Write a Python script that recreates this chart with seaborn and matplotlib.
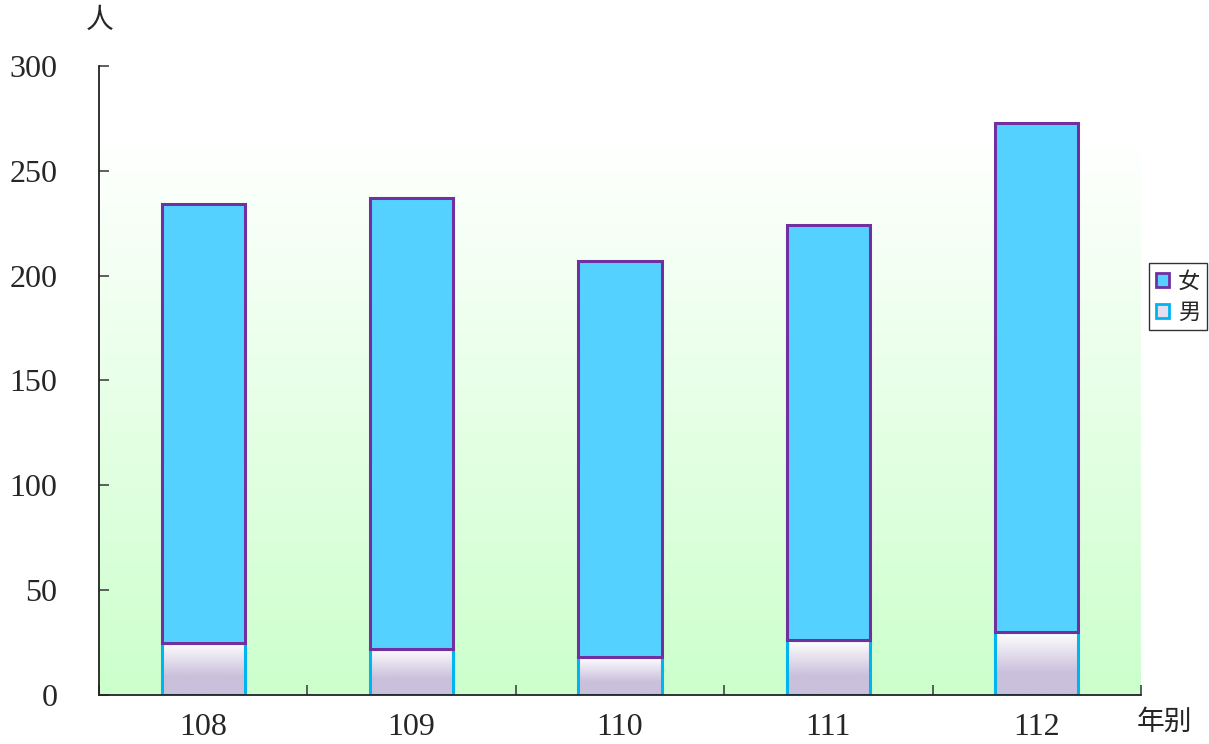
import numpy as np
import pandas as pd
import matplotlib
matplotlib.use("Agg")
import matplotlib.pyplot as plt
import seaborn as sns
from matplotlib.patches import Patch
from matplotlib.colors import LinearSegmentedColormap

years = ["108", "109", "110", "111", "112"]
male = [25, 22, 18, 26, 30]
female = [209, 215, 189, 198, 243]
yticks = [0, 50, 100, 150, 200, 250, 300]

sns.set_theme(style="white")
plt.rcParams['font.family'] = ['Liberation Serif', 'Noto Sans CJK TC', 'DejaVu Sans']

FEMALE_FACE = "#55D1FF"
FEMALE_EDGE = "#7030A0"
MALE_EDGE = "#00B4F0"
CJK = ['Noto Sans CJK TC', 'DejaVu Sans']

fig = plt.figure(figsize=(12.09, 7.44), dpi=100)
ax = fig.add_axes([99/1209, 49/744, (1141-99)/1209, (695-66)/744])

df = pd.DataFrame({"year": years, "male": male, "female": female})

# female bars (stacked on male)
sns.barplot(data=df, x="year", y="female", ax=ax, color=FEMALE_FACE, saturation=1,
            width=0.40, edgecolor=FEMALE_EDGE, linewidth=2.2, zorder=3)
for p, m in zip(ax.patches, male):
    p.set_y(m)
n_f = len(ax.patches)

# male bars
sns.barplot(data=df, x="year", y="male", ax=ax, color="white", saturation=1,
            width=0.40, edgecolor=MALE_EDGE, linewidth=2.2, zorder=2.6)
male_patches = ax.patches[n_f:]

cmap_m = LinearSegmentedColormap.from_list("m", [(0, "#FFFFFF"), (0.65, "#CAC0DC"), (1, "#CAC0DC")])
grad = np.linspace(0, 1, 256).reshape(-1, 1)
for p in male_patches:
    p.set_facecolor("none")
    x0, y0, w, h = p.get_x(), p.get_y(), p.get_width(), p.get_height()
    im = ax.imshow(grad, cmap=cmap_m, aspect="auto", origin="upper",
                   extent=[x0, x0 + w, y0, y0 + h], zorder=2.5, interpolation="bilinear")
    im.set_clip_path(p)

# background gradient
cmap_bg = LinearSegmentedColormap.from_list("bg", ["#FFFFFF", "#CCFFCC"])
ax.imshow(grad, cmap=cmap_bg, aspect="auto", origin="upper",
          extent=[0, 1, 0, 0.887], transform=ax.transAxes, zorder=0)

ax.set_xlim(-0.5, len(years) - 0.5)
ax.set_ylim(0, 300)
ax.set_yticks(yticks)
ax.set_yticklabels([str(t) for t in yticks])
ax.set_xlabel("")
ax.set_ylabel("")

for s in ["top", "right"]:
    ax.spines[s].set_visible(False)
for s in ["left", "bottom"]:
    ax.spines[s].set_color("#222222")
    ax.spines[s].set_linewidth(1.3)
    ax.spines[s].set_zorder(5)

ax.tick_params(axis="y", direction="in", length=7, width=1.2, color="#444444",
               pad=30, labelsize=23, left=True)
ax.tick_params(axis="x", which="major", length=0, pad=13, labelsize=23)
ax.set_xticks(np.arange(-0.5, len(years) + 0.5, 1), minor=True)
ax.tick_params(axis="x", which="minor", direction="in", length=7, width=1.2,
               color="#444444", bottom=True)

fig.text(100/1209, 1 - 20/744, "人", ha="center", va="center", fontsize=20, family=CJK)
fig.text(1164/1209, 1 - 722/744, "年别", ha="center", va="center", fontsize=20, family=CJK)

handles = [Patch(facecolor=FEMALE_FACE, edgecolor=FEMALE_EDGE, linewidth=2, label="女"),
           Patch(facecolor="#E4DEEE", edgecolor=MALE_EDGE, linewidth=2, label="男")]
leg = fig.legend(handles=handles, loc="upper left", bbox_to_anchor=(1149/1209, 1 - 263/744),
                 bbox_transform=fig.transFigure, borderaxespad=0, frameon=True,
                 fancybox=False, edgecolor="black", prop={"family": CJK, "size": 16},
                 handlelength=0.6, handleheight=0.6, handletextpad=0.4,
                 borderpad=0.3, labelspacing=0.35)
leg.get_frame().set_linewidth(1.0)

fig.savefig("out.png", dpi=100, facecolor="white")
